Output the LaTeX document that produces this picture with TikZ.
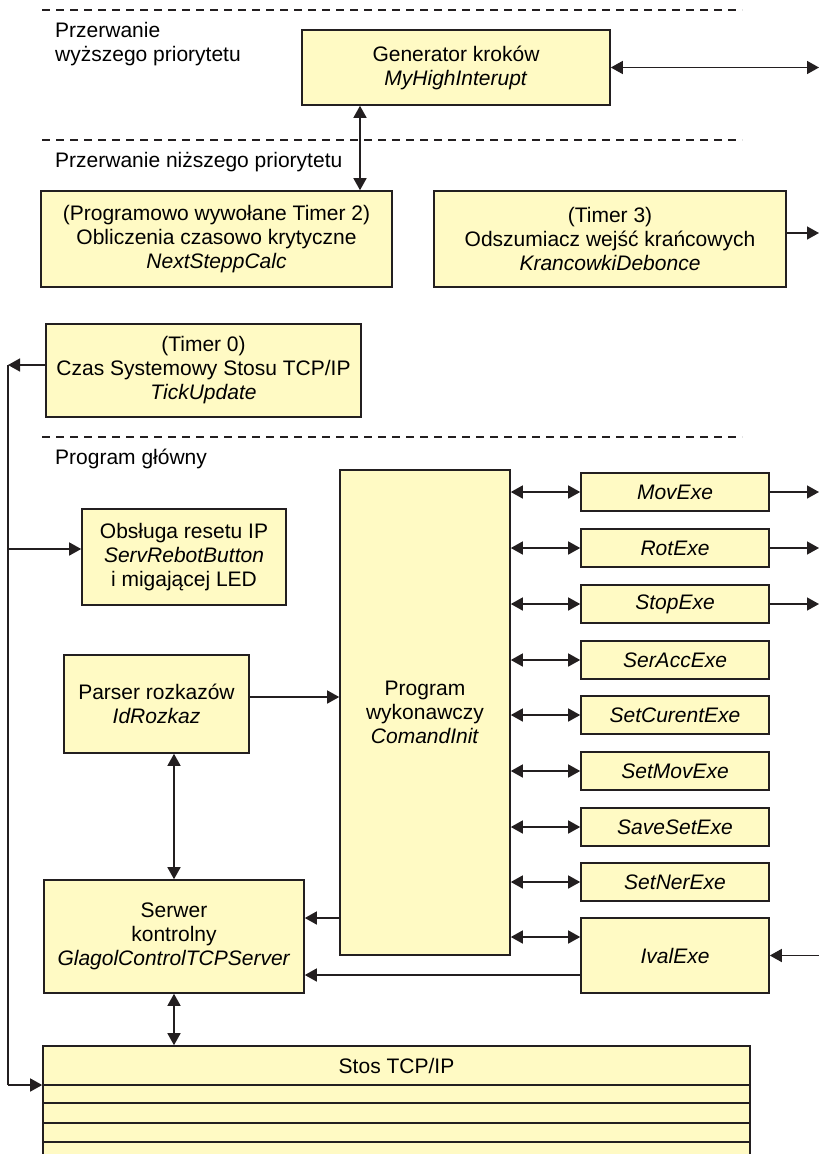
\documentclass[tikz,border=0pt]{standalone}
\usepackage{fontspec}
\setmainfont{Liberation Sans}
\usetikzlibrary{arrows.meta,calc}
\definecolor{boxfill}{RGB}{255,250,196}
\definecolor{boxline}{RGB}{35,31,32}
\tikzset{
  blk/.style={draw=boxline, fill=boxfill, line width=1.6pt, inner sep=0pt, align=center, font=\fontsize{21}{24}\selectfont},
  lbl/.style={inner sep=0pt, anchor=base west, font=\fontsize{21}{24}\selectfont},
  sep/.style={dash pattern=on 8pt off 6pt, line width=1.3pt, draw=boxline},
  conn/.style={line width=1.5pt, draw=boxline},
  arr/.style={conn, -{Triangle[length=12pt,width=13pt]}},
  darr/.style={conn, {Triangle[length=12pt,width=13pt]}-{Triangle[length=12pt,width=13pt]}}
}
\begin{document}
\begin{tikzpicture}[x=1pt,y=-1pt]
\useasboundingbox (0,0) rectangle (819,1154);
% separators
\draw[sep] (42,10) -- (742,10);
\draw[sep] (42,140) -- (742,140);
\draw[sep] (42,437) -- (742,437);
% labels
\node[lbl] (l1) at (55,37) {Przerwanie};
\node[lbl] (l2) at (55,61) {wyższego priorytetu};
\node[lbl] (l3) at (55,167) {Przerwanie niższego priorytetu};
\node[lbl] (l4) at (55,464) {Program główny};
% boxes
\node[blk, minimum width=308, minimum height=75] (gen) at (456,67.5) {Generator kroków\\\textit{MyHighInterupt}};
\node[blk, minimum width=351, minimum height=96] (prog2) at (216.5,239) {(Programowo wywołane Timer 2)\\Obliczenia czasowo krytyczne\\\textit{NextSteppCalc}};
\node[blk, minimum width=352, minimum height=96] (t3) at (610,239) {(Timer 3)\\Odszumiacz wejść krańcowych\\\textit{KrancowkiDebonce}};
\node[blk, minimum width=315, minimum height=93] (t0) at (203.5,370.5) {(Timer 0)\\Czas Systemowy Stosu TCP/IP\\\textit{TickUpdate}};
\node[blk, minimum width=204, minimum height=96] (obs) at (184,557) {Obsługa resetu IP\\\textit{ServRebotButton}\\i migającej LED};
\node[blk, minimum width=185, minimum height=98] (parser) at (156.5,704) {Parser rozkazów\\\textit{IdRozkaz}};
\node[blk, minimum width=170, minimum height=485] (cmd) at (425,712.5) {Program\\wykonawczy\\\textit{ComandInit}};
\node[blk, minimum width=260, minimum height=113] (serwer) at (174,936.5) {Serwer\\kontrolny\\\textit{GlagolControlTCPServer}};
\node[blk, minimum width=188, minimum height=38] (mov) at (675,492) {\textit{MovExe}};
\node[blk, minimum width=188, minimum height=38] (rot) at (675,548) {\textit{RotExe}};
\node[blk, minimum width=188, minimum height=38] (stop) at (675,604) {\textit{StopExe}};
\node[blk, minimum width=188, minimum height=38] (seracc) at (675,660) {\textit{SerAccExe}};
\node[blk, minimum width=188, minimum height=38] (setcur) at (675,715) {\textit{SetCurentExe}};
\node[blk, minimum width=188, minimum height=38] (setmov) at (675,771) {\textit{SetMovExe}};
\node[blk, minimum width=188, minimum height=38] (saveset) at (675,827) {\textit{SaveSetExe}};
\node[blk, minimum width=188, minimum height=38] (setner) at (675,882) {\textit{SetNerExe}};
\node[blk, minimum width=188, minimum height=75] (ival) at (675,955.5) {\textit{IvalExe}};
\node[blk, minimum width=707, minimum height=134] (stack) at (396.5,1113) {};
\node[inner sep=0pt, font=\fontsize{21}{24}\selectfont] (stacktitle) at (396.5,1066) {Stos TCP/IP};
\foreach \yy in {1085,1103,1123,1142} \draw[draw=boxline, line width=1.6pt] (stack.west |- 0,\yy) -- (stack.east |- 0,\yy);
% coordinates
\coordinate (eGen) at (819,67.5);
\coordinate (eT3) at (819,233);
\coordinate (eMov) at (819,492);
\coordinate (eRot) at (819,548);
\coordinate (eStop) at (819,604);
\coordinate (eIval) at (819,955.5);
\coordinate (xGP) at (360,0);
\coordinate (busTop) at (8,365);
\coordinate (busObs) at (8,549);
\coordinate (busBot) at (8,1085);
\coordinate (yPC) at (0,697);
\coordinate (yCS) at (0,918);
\coordinate (yCI) at (0,937);
\coordinate (yIS) at (0,975);
% connectors
\draw[darr] (gen.east) -- (eGen);
\draw[darr] (gen.south -| xGP) -- (prog2.north -| xGP);
\draw[arr] (t3.east |- eT3) -- (eT3);
\draw[arr] (t0.west |- busTop) -- (busTop);
\draw[conn] (busTop) -- (busBot);
\draw[arr] (busBot) -- (stack.west |- busBot);
\draw[arr] (busObs) -- (obs.west |- busObs);
\draw[arr] (parser.east |- yPC) -- (cmd.west |- yPC);
\draw[darr] (serwer.north |- parser.south) -- (serwer.north);
\draw[arr] (cmd.west |- yCS) -- (serwer.east |- yCS);
\draw[arr] (ival.west |- yIS) -- (serwer.east |- yIS);
\draw[darr] (serwer.south) -- (serwer.south |- stack.north);
\foreach \b in {mov,rot,stop,seracc,setcur,setmov,saveset,setner}
  \draw[darr] (cmd.east |- \b.west) -- (\b.west);
\draw[darr] (cmd.east |- yCI) -- (ival.west |- yCI);
\draw[arr] (mov.east) -- (eMov);
\draw[arr] (rot.east) -- (eRot);
\draw[arr] (stop.east) -- (eStop);
\draw[arr] (eIval) -- (ival.east);
\end{tikzpicture}
\end{document}
